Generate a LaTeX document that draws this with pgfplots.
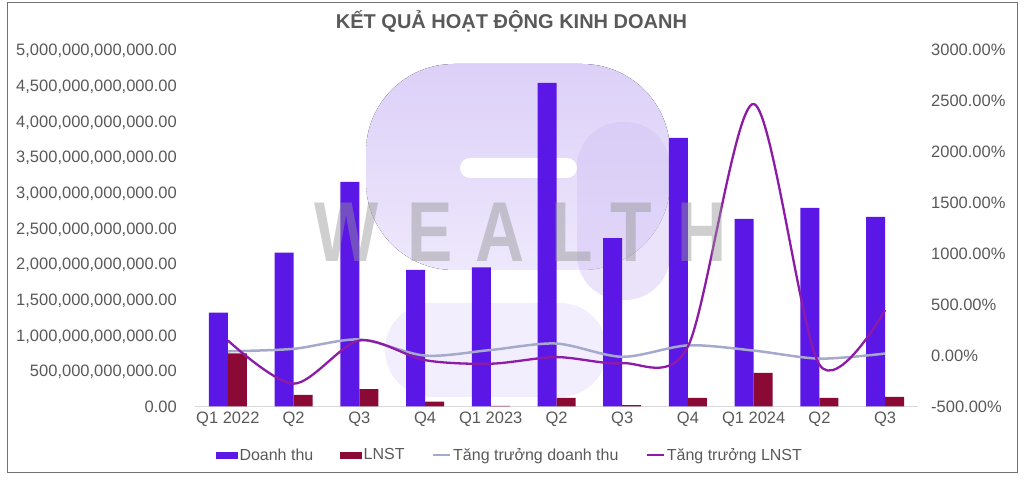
\documentclass[border=0pt]{standalone}
\usepackage{pgfplots}
\usepackage{pgfplotstable}
\pgfplotsset{compat=1.18}
\usepackage{fontspec}
\setmainfont{Liberation Sans}

\definecolor{dt}{HTML}{5B17E6}
\definecolor{ln}{HTML}{8B0A35}
\definecolor{gdt}{HTML}{A5AACD}
\definecolor{gln}{HTML}{8E1BA8}
\definecolor{txt}{HTML}{595959}
\definecolor{lav}{HTML}{DCD0F8}
\definecolor{lavlt}{HTML}{EEE8FC}
\definecolor{lavdk}{HTML}{D2C2F5}

% values in billion VND, growth in %
\pgfplotstableread{
q dt ln gdt gln
0 1316 746 42 148
1 2157 164 66 -276
2 3150 243 158 148
3 1915 70 0 -45
4 1951 10 55 -80
5 4538 122 118 -15
6 2363 20 -12 -75
7 3767 122 100 90
8 2633 472 49 2470
9 2787 122 -30 -89
10 2661 136 20 447
}\data

\begin{document}
\begin{tikzpicture}
\useasboundingbox (0pt,0pt) rectangle (1024pt,481pt);
\draw[black!55, line width=1pt] (7pt,8pt) rectangle (1017pt,478pt);

% watermark shapes
\fill[top color=lav, bottom color=lavlt, rounded corners=88pt] (366pt,211pt) rectangle (670pt,417pt);
\fill[lavdk, opacity=0.45, rounded corners=45pt] (577pt,181pt) rectangle (670pt,359pt);
\fill[lavlt!75!white, rounded corners=47pt] (385pt,84pt) rectangle (607pt,178pt);
\fill[white, rounded corners=10pt] (460pt,303pt) rectangle (577pt,323pt);

\node[font=\bfseries\fontsize{20}{24}\selectfont, text=txt] at (511.5pt,459pt) {KẾT QUẢ HOẠT ĐỘNG KINH DOANH};

\begin{axis}[
  at={(195pt,74.5pt)}, anchor=south west,
  scale only axis, width=723pt, height=356.5pt,
  xmin=-0.5, xmax=10.5, ymin=0, ymax=5000,
  ybar=0pt, bar width=19pt,
  axis x line*=bottom, axis y line*=left,
  x axis line style={-, draw=black!15, line width=1pt},
  y axis line style={draw=none},
  xtick={0,...,10},
  xticklabels={Q1 2022,Q2,Q3,Q4,Q1 2023,Q2,Q3,Q4,Q1 2024,Q2,Q3},
  ytick={0,500,...,5000},
  yticklabels={{0.00},{500,000,000,000.00},{1,000,000,000,000.00},{1,500,000,000,000.00},{2,000,000,000,000.00},{2,500,000,000,000.00},{3,000,000,000,000.00},{3,500,000,000,000.00},{4,000,000,000,000.00},{4,500,000,000,000.00},{5,000,000,000,000.00}},
  major tick length=0pt,
  tick label style={font=\fontsize{16.5}{19}\selectfont, text=txt},
  yticklabel style={anchor=base east, inner sep=0pt, xshift=-18pt, yshift=-6pt},
  xticklabel style={anchor=north, inner sep=0pt, yshift=-5.5pt},
]
\addplot[fill=dt, draw=none] table[x=q,y=dt]{\data};
\addplot[fill=ln, draw=none] table[x=q,y=ln]{\data};
\end{axis}

\begin{axis}[
  at={(195pt,74.5pt)}, anchor=south west,
  scale only axis, width=723pt, height=356.5pt,
  xmin=-0.5, xmax=10.5, ymin=-500, ymax=3000,
  axis y line*=right, axis x line=none,
  y axis line style={draw=none},
  ytick={-500,0,...,3000},
  yticklabels={{-500.00\%},{0.00\%},{500.00\%},{1000.00\%},{1500.00\%},{2000.00\%},{2500.00\%},{3000.00\%}},
  major tick length=0pt,
  tick label style={font=\fontsize{16.5}{19}\selectfont, text=txt},
  yticklabel style={anchor=base west, inner sep=0pt, xshift=13pt, yshift=-6pt},
  legend columns=4,
  legend style={at={(0.4357,-0.136)}, anchor=center, draw=none, fill=none,
    font=\fontsize{16}{19}\selectfont, text=txt,
    nodes={inner sep=2pt},
    /tikz/every even column/.append style={column sep=25pt}},
]
\addlegendimage{legend image code/.code={\fill[dt] (0pt,-3pt) rectangle (21pt,3pt);}}
\addlegendentry{Doanh thu}
\addlegendimage{legend image code/.code={\fill[ln] (0pt,-3pt) rectangle (21pt,3pt);}}
\addlegendentry{LNST}
\addplot[gdt, line width=2.5pt, smooth] table[x=q,y=gdt]{\data};
\addlegendentry{Tăng trưởng doanh thu}
\addplot[gln, line width=2.3pt, smooth] table[x=q,y=gln]{\data};
\addlegendentry{Tăng trưởng LNST}
\end{axis}

% watermark letters
\begin{scope}[opacity=0.45, every node/.style={font=\bfseries\fontsize{85}{85}\selectfont, text=black!42, xscale=0.8, inner sep=0pt}]
\node at (347pt,249pt) {W};
\node at (430pt,249pt) {E};
\node at (500pt,249pt) {A};
\node at (572pt,249pt) {L};
\node at (631pt,249pt) {T};
\node at (702pt,249pt) {H};
\end{scope}
\end{tikzpicture}
\end{document}
